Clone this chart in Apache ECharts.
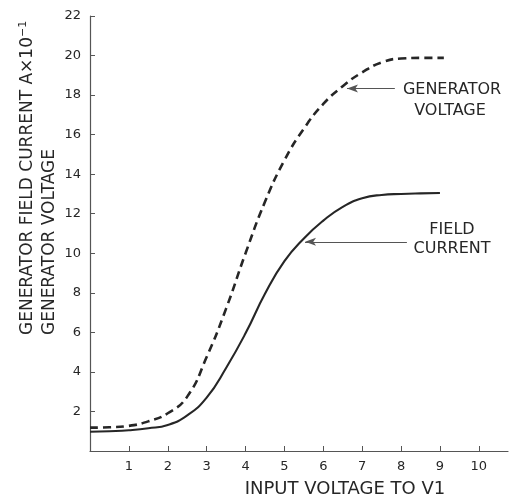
<!DOCTYPE html>
<html><head><meta charset="utf-8">
<script src="https://cdn.jsdelivr.net/npm/echarts@6/dist/echarts.min.js"></script>
<style>html,body{margin:0;padding:0;background:#fff}#c{width:516px;height:499px}</style>
</head><body><div id="c"></div>
<script>
const xValues = [0, 0.5, 1, 1.5, 2, 2.5, 3, 3.5, 4, 4.5, 5, 5.5, 6, 6.5, 7, 7.5, 8, 8.5, 9];
const fieldCurrent = [0.97, 1.0, 1.05, 1.15, 1.32, 1.8, 2.7, 4.2, 5.95, 7.95, 9.6, 10.75, 11.65, 12.35, 12.78, 12.95, 13.0, 13.03, 13.05];
const genVoltageX = [0, 0.5, 1, 1.5, 2, 2.5, 3, 3.5, 4, 4.5, 5, 5.5, 6, 6.5, 7, 7.5, 8, 8.5, 9.1];
const genVoltage = [1.18, 1.2, 1.27, 1.5, 1.91, 2.75, 4.75, 7.2, 10.0, 12.6, 14.7, 16.3, 17.55, 18.45, 19.15, 19.65, 19.85, 19.88, 19.88];
const xTicks = [1, 2, 3, 4, 5, 6, 7, 8, 9, 10];
const yTicks = [2, 4, 6, 8, 10, 12, 14, 16, 18, 20, 22];
const gvArrow = [[7.84, 18.33], [6.61, 18.33]];
const fcArrow = [[8.15, 10.58], [5.53, 10.58]];

const FONT = 'DejaVu Sans, Liberation Sans, sans-serif';
const INK = '#262626';
const chart = echarts.init(document.getElementById('c'), null, {renderer: 'canvas'});
const arrowLine = (pts) => ({
  silent: true, symbol: ['none', 'arrow'], symbolSize: [6, 11],
  lineStyle: {color: '#555', width: 1.2, type: 'solid'}, label: {show: false},
  data: [[{coord: pts[0]}, {coord: pts[1]}]]
});
chart.setOption({
  animation: false,
  backgroundColor: '#fff',
  grid: {left: 90, right: 8, top: 16, bottom: 48, containLabel: false},
  xAxis: {
    type: 'value', min: 0, max: 10.75, interval: 1,
    axisLine: {show: true, onZero: false, lineStyle: {color: '#555', width: 1.2}},
    axisTick: {show: true, inside: true, length: 5, customValues: xTicks, lineStyle: {color: '#555'}},
    axisLabel: {customValues: xTicks, margin: 9, color: INK, fontFamily: FONT, fontSize: 13},
    splitLine: {show: false}
  },
  yAxis: {
    type: 'value', min: 0, max: 22, interval: 2,
    axisLine: {show: true, onZero: false, lineStyle: {color: '#555', width: 1.2}},
    axisTick: {show: true, inside: true, length: 5, customValues: yTicks, lineStyle: {color: '#555'}},
    axisLabel: {customValues: yTicks, margin: 9, color: INK, fontFamily: FONT, fontSize: 13},
    splitLine: {show: false}
  },
  series: [
    {
      type: 'line', name: 'Generator voltage', smooth: 0.5, showSymbol: false,
      data: genVoltageX.map((x, i) => [x, genVoltage[i]]),
      lineStyle: {color: INK, width: 2.6, type: [8, 5]},
      markLine: arrowLine(gvArrow)
    },
    {
      type: 'line', name: 'Field current', smooth: 0.5, showSymbol: false,
      data: xValues.map((x, i) => [x, fieldCurrent[i]]),
      lineStyle: {color: INK, width: 2.1, type: 'solid'},
      markLine: arrowLine(fcArrow)
    }
  ],
  graphic: [
    {type: 'text', x: 28, y: 335, rotation: Math.PI / 2,
     style: {text: 'GENERATOR FIELD CURRENT A×10{sup|−1}', fill: INK, font: '17px ' + FONT,
       textAlign: 'left', textVerticalAlign: 'middle',
       rich: {sup: {fontSize: 11, fontFamily: FONT, verticalAlign: 'top', padding: [0, 0, 10, 0], fill: INK}}}},
    {type: 'text', x: 50, y: 335, rotation: Math.PI / 2,
     style: {text: 'GENERATOR VOLTAGE', fill: INK, font: '17px ' + FONT,
       textAlign: 'left', textVerticalAlign: 'middle'}},
    {type: 'text', x: 345, y: 489,
     style: {text: 'INPUT VOLTAGE TO V1', fill: INK, font: '18px ' + FONT,
       textAlign: 'center', textVerticalAlign: 'middle'}},
    {type: 'text', x: 452, y: 90,
     style: {text: 'GENERATOR', fill: INK, font: '16px ' + FONT, textAlign: 'center', textVerticalAlign: 'middle'}},
    {type: 'text', x: 450, y: 111,
     style: {text: 'VOLTAGE', fill: INK, font: '16px ' + FONT, textAlign: 'center', textVerticalAlign: 'middle'}},
    {type: 'text', x: 452, y: 230,
     style: {text: 'FIELD', fill: INK, font: '16px ' + FONT, textAlign: 'center', textVerticalAlign: 'middle'}},
    {type: 'text', x: 452, y: 249,
     style: {text: 'CURRENT', fill: INK, font: '16px ' + FONT, textAlign: 'center', textVerticalAlign: 'middle'}}
  ]
});
</script></body></html>
